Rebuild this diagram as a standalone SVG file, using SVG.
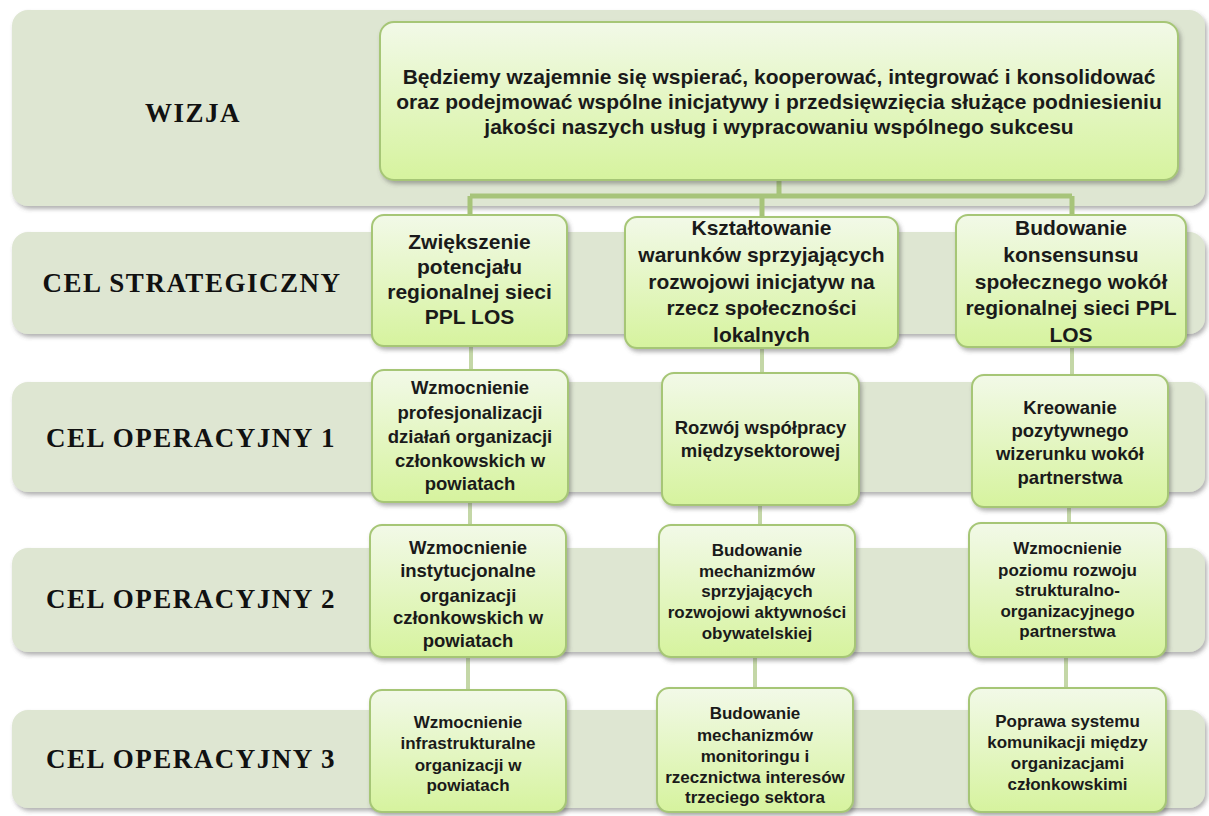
<svg xmlns="http://www.w3.org/2000/svg" width="1209" height="816" viewBox="0 0 1209 816">
<defs>
<linearGradient id="gbox" x1="0" y1="0" x2="0" y2="1">
<stop offset="0" stop-color="#f2f9e8"/>
<stop offset="1" stop-color="#d6f39e"/>
</linearGradient>
<filter id="sh" x="-10%" y="-10%" width="120%" height="130%">
<feDropShadow dx="2" dy="3" stdDeviation="2" flood-color="#555" flood-opacity="0.45"/>
</filter>
<style>
.band{fill:#dee6d2;filter:url(#sh)}
.box{fill:url(#gbox);stroke:#a6c676;stroke-width:2;filter:url(#sh)}
.lab{font-family:"Liberation Serif","Times New Roman",serif;font-weight:bold;font-size:27px;letter-spacing:1.5px;fill:#111;text-anchor:middle}
.t{font-family:"Liberation Sans",Arial,sans-serif;font-weight:bold;fill:#1a1a1a;text-anchor:middle}
.tv{font-size:21px}
.t21{font-size:21px}
.t18{font-size:18.5px}
.t16{font-size:17px}
.main{stroke:#a7c47a;stroke-width:5;fill:none}
.sub{stroke:#c4d7a7;stroke-width:4;fill:none}
</style>
</defs>
<g id="bands">
<rect class="band" x="12" y="10" width="1193" height="196" rx="16"/>
<rect class="band" x="12" y="232" width="1193" height="102" rx="16"/>
<rect class="band" x="12" y="382" width="1193" height="110" rx="16"/>
<rect class="band" x="12" y="548" width="1193" height="104" rx="16"/>
<rect class="band" x="12" y="710" width="1193" height="98" rx="16"/>
<text class="lab" x="193" y="122">WIZJA</text>
<text class="lab" x="192" y="292">CEL STRATEGICZNY</text>
<text class="lab" x="191" y="447">CEL OPERACYJNY 1</text>
<text class="lab" x="191" y="608">CEL OPERACYJNY 2</text>
<text class="lab" x="191" y="768">CEL OPERACYJNY 3</text>
</g>
<g id="connectors">
<path class="main" d="M779,180 V196 M470,196 H1072 M470,196 V215 M762,196 V217 M1072,196 V215"/>
<path class="sub" d="M471,346 V370 M470,502 V525 M468,657 V690 M762,348 V373 M760,505 V525 M755,657 V688 M1072,347 V375 M1069,507 V523 M1066,657 V688"/>
</g>
<g id="vision">
<rect class="box" x="380" y="22" width="798" height="158" rx="14"/>
<text class="t tv" x="779" y="84">Będziemy wzajemnie się wspierać, kooperować, integrować i konsolidować</text>
<text class="t tv" x="779" y="109">oraz podejmować wspólne inicjatywy i przedsięwzięcia służące podniesieniu</text>
<text class="t tv" x="779" y="134">jakości naszych usług i wypracowaniu wspólnego sukcesu</text>
</g>
<g id="s1">
<rect class="box" x="372" y="215" width="195" height="131" rx="12"/>
<text class="t t21" x="469.5" y="249">Zwiększenie</text>
<text class="t t21" x="469.5" y="274">potencjału</text>
<text class="t t21" x="469.5" y="299">regionalnej sieci</text>
<text class="t t21" x="469.5" y="324">PPL LOS</text>
</g>
<g id="s2">
<rect class="box" x="625" y="217" width="273" height="131" rx="12"/>
<text class="t t21" x="761.5" y="235">Kształtowanie</text>
<text class="t t21" x="761.5" y="262">warunków sprzyjających</text>
<text class="t t21" x="761.5" y="289">rozwojowi inicjatyw na</text>
<text class="t t21" x="761.5" y="315">rzecz społeczności</text>
<text class="t t21" x="761.5" y="342">lokalnych</text>
</g>
<g id="s3">
<rect class="box" x="956" y="215" width="230" height="132" rx="12"/>
<text class="t t21" x="1071" y="235">Budowanie</text>
<text class="t t21" x="1071" y="262">konsensunsu</text>
<text class="t t21" x="1071" y="289">społecznego wokół</text>
<text class="t t21" x="1071" y="315">regionalnej sieci PPL</text>
<text class="t t21" x="1071" y="342">LOS</text>
</g>
<g id="o1-1">
<rect class="box" x="372" y="370" width="196" height="132" rx="12"/>
<text class="t t18" x="470" y="394">Wzmocnienie</text>
<text class="t t18" x="470" y="419">profesjonalizacji</text>
<text class="t t18" x="470" y="443">działań organizacji</text>
<text class="t t18" x="470" y="467">członkowskich w</text>
<text class="t t18" x="470" y="490">powiatach</text>
</g>
<g id="o1-2">
<rect class="box" x="662" y="373" width="197" height="132" rx="12"/>
<text class="t t18" x="760.5" y="434">Rozwój współpracy</text>
<text class="t t18" x="760.5" y="457">międzysektorowej</text>
</g>
<g id="o1-3">
<rect class="box" x="972" y="375" width="196" height="132" rx="12"/>
<text class="t t18" x="1070" y="414">Kreowanie</text>
<text class="t t18" x="1070" y="437">pozytywnego</text>
<text class="t t18" x="1070" y="460">wizerunku wokół</text>
<text class="t t18" x="1070" y="484">partnerstwa</text>
</g>
<g id="o2-1">
<rect class="box" x="370" y="525" width="196" height="132" rx="12"/>
<text class="t t18" x="468" y="554">Wzmocnienie</text>
<text class="t t18" x="468" y="577">instytucjonalne</text>
<text class="t t18" x="468" y="602">organizacji</text>
<text class="t t18" x="468" y="624">członkowskich w</text>
<text class="t t18" x="468" y="647">powiatach</text>
</g>
<g id="o2-2">
<rect class="box" x="659" y="525" width="196" height="132" rx="12"/>
<text class="t t16" x="757" y="556">Budowanie</text>
<text class="t t16" x="757" y="577">mechanizmów</text>
<text class="t t16" x="757" y="597">sprzyjających</text>
<text class="t t16" x="757" y="618">rozwojowi aktywności</text>
<text class="t t16" x="757" y="639">obywatelskiej</text>
</g>
<g id="o2-3">
<rect class="box" x="969" y="523" width="197" height="134" rx="12"/>
<text class="t t16" x="1067.5" y="554">Wzmocnienie</text>
<text class="t t16" x="1067.5" y="576">poziomu rozwoju</text>
<text class="t t16" x="1067.5" y="596">strukturalno-</text>
<text class="t t16" x="1067.5" y="617">organizacyjnego</text>
<text class="t t16" x="1067.5" y="637">partnerstwa</text>
</g>
<g id="o3-1">
<rect class="box" x="370" y="690" width="196" height="122" rx="12"/>
<text class="t t16" x="468" y="728">Wzmocnienie</text>
<text class="t t16" x="468" y="749">infrastrukturalne</text>
<text class="t t16" x="468" y="771">organizacji w</text>
<text class="t t16" x="468" y="791">powiatach</text>
</g>
<g id="o3-2">
<rect class="box" x="657" y="688" width="196" height="124" rx="12"/>
<text class="t t16" x="755" y="719">Budowanie</text>
<text class="t t16" x="755" y="741">mechanizmów</text>
<text class="t t16" x="755" y="762">monitoringu i</text>
<text class="t t16" x="755" y="783">rzecznictwa interesów</text>
<text class="t t16" x="755" y="803">trzeciego sektora</text>
</g>
<g id="o3-3">
<rect class="box" x="969" y="688" width="197" height="124" rx="12"/>
<text class="t t16" x="1067.5" y="727">Poprawa systemu</text>
<text class="t t16" x="1067.5" y="748">komunikacji między</text>
<text class="t t16" x="1067.5" y="769">organizacjami</text>
<text class="t t16" x="1067.5" y="790">członkowskimi</text>
</g>
</svg>
